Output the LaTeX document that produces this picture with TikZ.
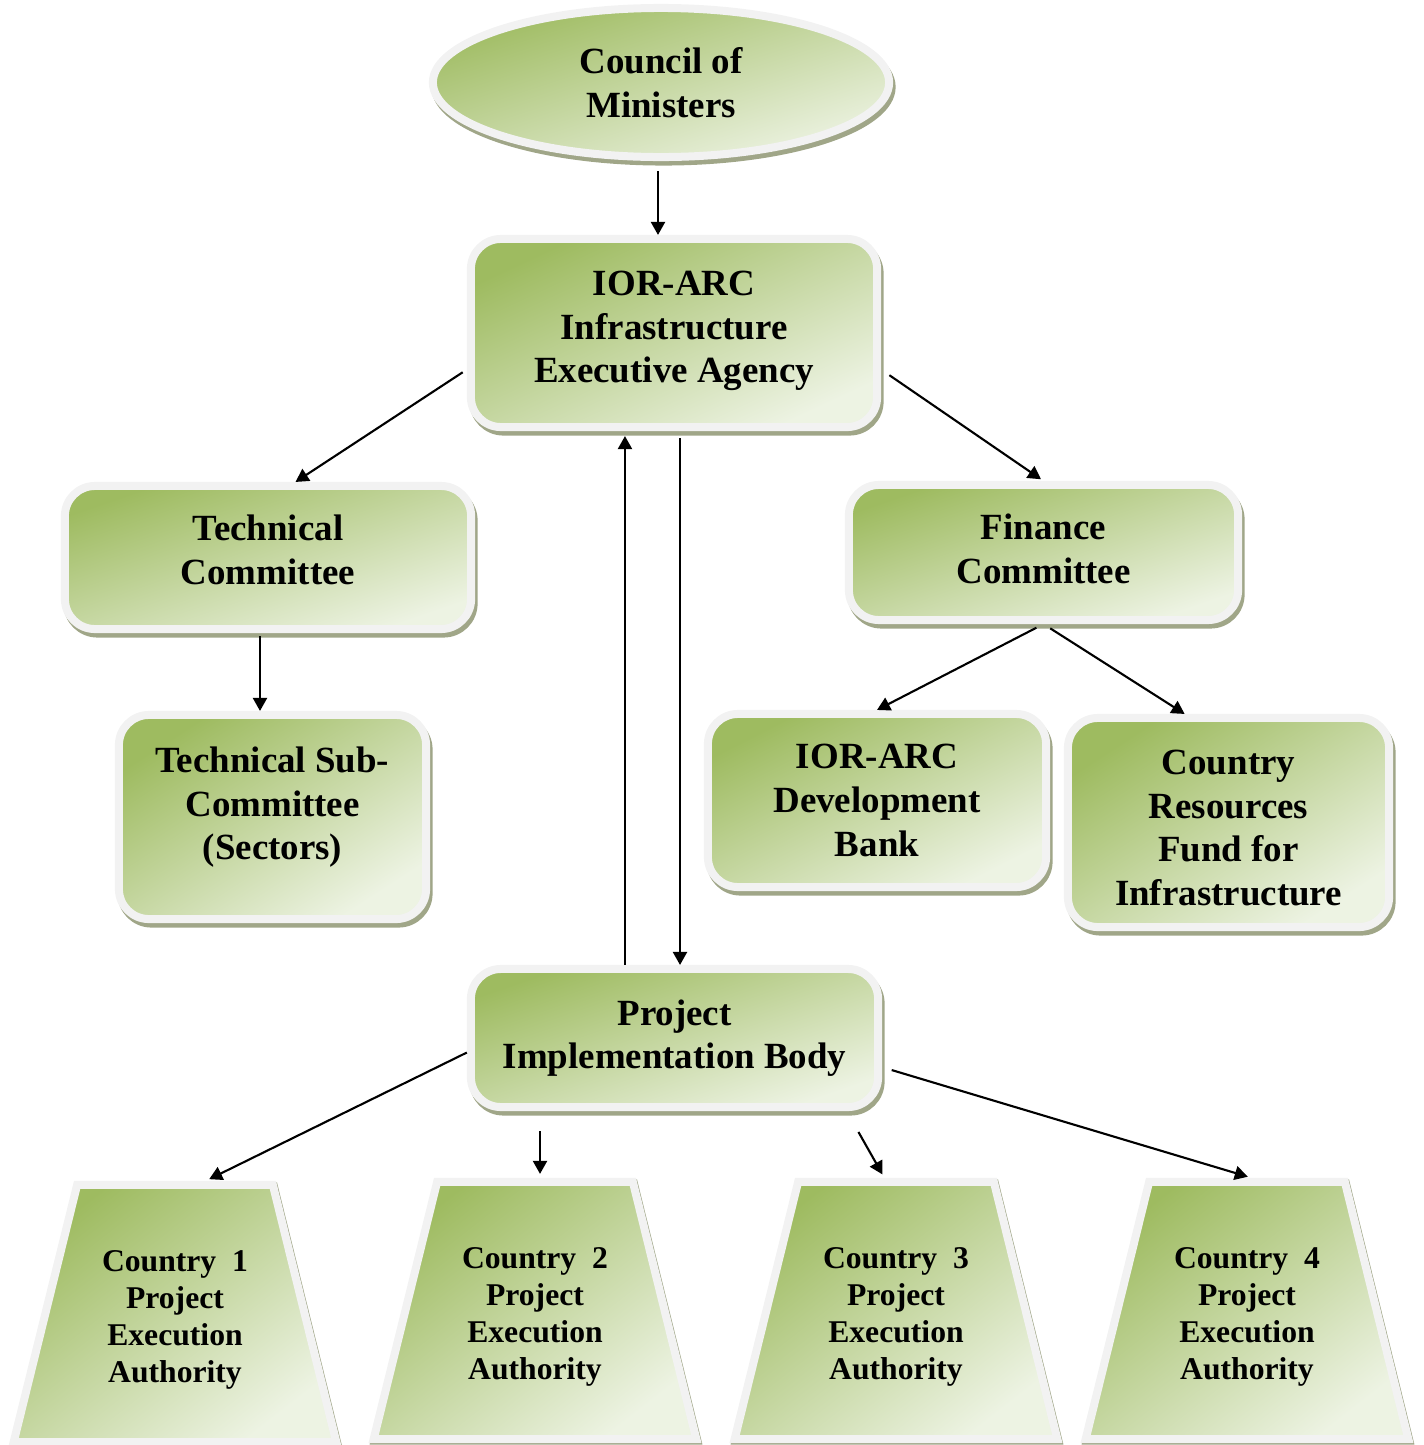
\documentclass[tikz,border=0pt]{standalone}
\usepackage{fontspec}
\setmainfont{Liberation Serif}
\usetikzlibrary{positioning,arrows.meta,shapes.geometric,calc}
\definecolor{leafDark}{RGB}{158,187,96}
\definecolor{leafLight}{RGB}{237,243,227}
\definecolor{rim}{RGB}{242,242,242}
\definecolor{shadowGreen}{RGB}{160,166,136}
\tikzstyle{unit}=[draw=rim, line width=0.08cm, top color=leafDark, bottom color=leafLight, shading angle=25, align=center, text=black, font=\fontsize{10.5}{12.4}\selectfont\bfseries]
\tikzstyle{lift}=[preaction={draw=shadowGreen, fill=shadowGreen, line width=0.08cm, transform canvas={shift={(0.025cm,-0.045cm)}}}]
\tikzstyle{liftThin}=[preaction={draw=shadowGreen, fill=shadowGreen, line width=0.08cm, transform canvas={shift={(0.01cm,-0.015cm)}}}]
\tikzstyle{unitBox}=[unit, lift, rectangle, rounded corners=0.3cm]
\tikzstyle{unitBase}=[unit, liftThin, trapezium, trapezium left angle=72.6, trapezium right angle=72.6, trapezium stretches=true, minimum width=3.25cm, minimum height=2.57cm, shading angle=38, text height=1.45cm, font=\fontsize{9}{10.5}\selectfont\bfseries]

\begin{document}
\begin{tikzpicture}[x=0.01cm, y=-0.01cm, >={Triangle[length=0.13cm,width=0.14cm]}, line width=0.6pt]
	\useasboundingbox (0,0) rectangle (1424,1445);
	\node[unit, lift, ellipse, minimum width=4.56cm, minimum height=1.49cm, shading angle=18] (council) at (661,82.5) {Council of\\Ministers};
	\node[unitBox, minimum width=4.06cm, minimum height=1.88cm, text depth=0.12cm] (execAgency) at (674,333) {IOR-ARC\\Infrastructure\\Executive Agency};
	\node[unitBox, minimum width=4.06cm, minimum height=1.43cm, shading angle=19, text depth=0.16cm] (techCom) at (268,557.5) {Technical\\Committee};
	\node[unitBox, minimum width=3.07cm, minimum height=2.04cm, shading angle=33, text depth=0.27cm] (techSub) at (272.5,817) {Technical Sub-\\Committee\\(Sectors)};
	\node[unitBox, minimum width=3.89cm, minimum height=1.35cm, shading angle=19, text depth=0.08cm] (finCom) at (1043.5,552.5) {Finance\\Committee};
	\node[unitBox, minimum width=3.38cm, minimum height=1.73cm, shading angle=27] (devBank) at (877,800.5) {IOR-ARC\\Development\\Bank};
	\node[unitBox, minimum width=3.21cm, minimum height=2.09cm, shading angle=33, text height=1.66cm] (resFund) at (1228.5,822.5) {Country\\Resources\\Fund for\\Infrastructure};
	\node[unitBox, minimum width=4.07cm, minimum height=1.38cm, shading angle=19] (implBody) at (674.5,1038) {Project\\Implementation Body};
	\node[unitBase] (country1) at (175,1313.5) {Country\ \ 1\\Project\\Execution\\Authority};
	\node[unitBase] (country2) at (535,1310.5) {Country\ \ 2\\Project\\Execution\\Authority};
	\node[unitBase] (country3) at (896,1310.5) {Country\ \ 3\\Project\\Execution\\Authority};
	\node[unitBase] (country4) at (1247,1310.5) {Country\ \ 4\\Project\\Execution\\Authority};
	\coordinate (topLink) at ([xshift=-0.03cm]council.south);
	\coordinate (techLink) at ([xshift=-0.08cm]techCom.south);
	\coordinate (upLink) at ([xshift=-0.495cm]implBody.north);
	\coordinate (downLink) at ([xshift=0.06cm]execAgency.south);
	\coordinate (c2Link) at ([xshift=0.05cm]country2.north);
	\path[->] (topLink) edge[shorten <=0.1cm] (topLink |- execAgency.north);
	\path[->] (execAgency.190) edge[shorten <=0.05cm] (techCom.70);
	\path[->] (execAgency.-10) edge[shorten <=0.1cm, shorten >=0.03cm] (finCom.north);
	\path[->] (techLink) edge[shorten <=0.03cm] (techLink |- techSub.north);
	\path[->] (upLink) edge[shorten >=0.05cm] (upLink |- execAgency.south);
	\path[->] (downLink) edge[shorten <=0.07cm] (downLink |- implBody.north);
	\path[->] (finCom.south) edge[shorten <=0.08cm] (devBank.north);
	\path[->] (finCom.south) edge[shorten <=0.08cm] (resFund.112);
	\path[->] (implBody.184) edge[shorten >=0.04cm] (country1.77);
	\path[->] (c2Link |- implBody.south) edge[shorten <=0.2cm, shorten >=0.04cm] (c2Link);
	\path[->] (implBody.-23) edge[shorten <=0.24cm, shorten >=0.04cm] (country3.95);
	\path[->] (implBody.-8) edge[shorten <=0.1cm, shorten >=0.04cm] (country4.88);
\end{tikzpicture}
\end{document}
